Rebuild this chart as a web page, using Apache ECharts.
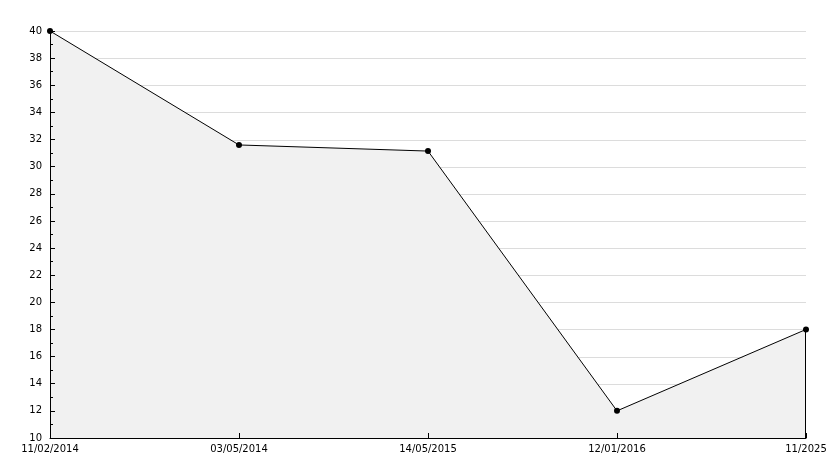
<!DOCTYPE html>
<html>
<head>
<meta charset="utf-8">
<script src="https://cdn.jsdelivr.net/npm/echarts@6/dist/echarts.min.js"></script>
<style>
html,body{margin:0;padding:0;background:#fff;}
#chart{width:834px;height:468px;}
</style>
</head>
<body>
<div id="chart"></div>
<script>
var categories = ['11/02/2014', '03/05/2014', '14/05/2015', '12/01/2016', '11/2025'];
var values = [40, 31.6, 31.15, 12, 18];
var yMin = 10, yMax = 40, yStep = 2;
var gridValues = [12, 14, 16, 18, 20, 22, 24, 26, 28, 30, 32, 34, 36, 38, 40];

var chart = echarts.init(document.getElementById('chart'), null, {renderer: 'canvas'});
var font = {fontFamily: 'DejaVu Sans', fontSize: 10, color: '#000'};
var last = categories.length - 1;

function renderBack(params, api) {
  if (params.dataIndex !== 0) return null;
  var children = [];
  var pts = [];
  for (var i = 0; i < values.length; i++) pts.push(api.coord([i, values[i]]));
  pts.push(api.coord([last, yMin]));
  pts.push(api.coord([0, yMin]));
  children.push({
    type: 'polygon',
    shape: {points: pts},
    style: {fill: '#f1f1f1', stroke: null, opacity: 1}
  });
  // grid lines only where they lie above the curve (the area hides them elsewhere)
  gridValues.forEach(function (v) {
    for (var s = 0; s < last; s++) {
      var a = values[s], b = values[s + 1];
      var t0, t1;
      if (a < v && b < v) { t0 = 0; t1 = 1; }
      else if (a >= v && b >= v) { continue; }
      else {
        var tc = (v - a) / (b - a);
        if (a < v) { t0 = 0; t1 = tc; } else { t0 = tc; t1 = 1; }
      }
      var p0 = api.coord([s, v]), p1 = api.coord([s + 1, v]);
      var y = Math.round(p0[1]) + 0.5;
      children.push({
        type: 'line',
        shape: {x1: p0[0] + (p1[0] - p0[0]) * t0, y1: y, x2: p0[0] + (p1[0] - p0[0]) * t1, y2: y},
        style: {stroke: '#dcdcdc', lineWidth: 1}
      });
    }
  });
  children.push({
    type: 'line',
    shape: {x1: Math.round(pts[last][0]) - 0.5, y1: pts[last][1], x2: Math.round(pts[last][0]) - 0.5, y2: pts[last + 1][1]},
    style: {stroke: '#000', lineWidth: 1}
  });
  return {type: 'group', children: children};
}

chart.setOption({
  animation: false,
  backgroundColor: '#fff',
  grid: {left: 50, right: 28, top: 31, bottom: 30, containLabel: false},
  xAxis: {
    type: 'category',
    data: categories,
    boundaryGap: false,
    z: 20,
    axisLine: {show: true, lineStyle: {color: '#000', width: 1}},
    axisTick: {show: true, inside: true, length: 5, lineStyle: {color: '#000'}},
    axisLabel: Object.assign({margin: 6, interval: 0, showMinLabel: true, showMaxLabel: true}, font),
    splitLine: {show: false}
  },
  yAxis: {
    type: 'value',
    min: yMin, max: yMax, interval: yStep,
    z: 20,
    axisLine: {show: true, lineStyle: {color: '#000', width: 1}},
    axisTick: {show: true, inside: true, length: 5, lineStyle: {color: '#000'}},
    minorTick: {show: true, splitNumber: 2, length: 3, lineStyle: {color: '#000'}},
    axisLabel: Object.assign({margin: 8}, font),
    splitLine: {show: false},
    minorSplitLine: {show: false}
  },
  series: [{
    type: 'custom',
    data: values,
    z: 3,
    silent: true,
    clip: false,
    renderItem: renderBack
  }, {
    type: 'line',
    data: values,
    z: 10,
    symbol: 'circle',
    symbolSize: 6,
    itemStyle: {color: '#000'},
    lineStyle: {color: '#000', width: 1}
  }]
});
</script>
</body>
</html>
